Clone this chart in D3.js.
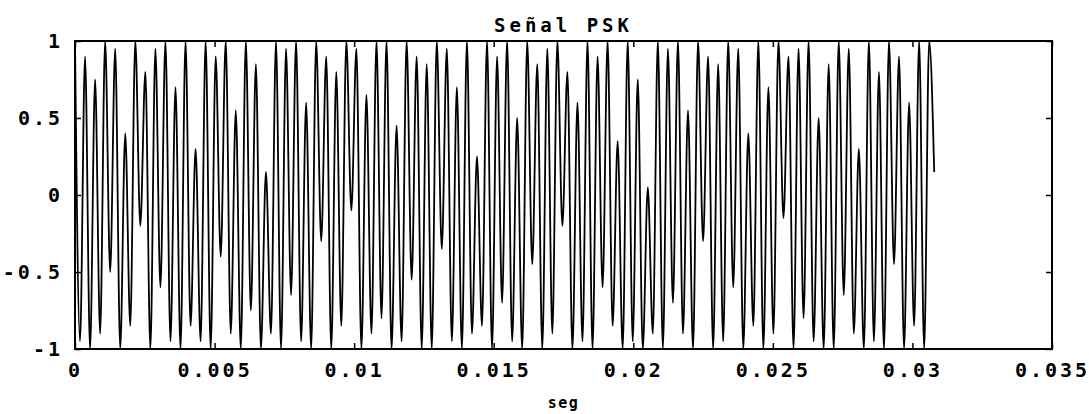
<!DOCTYPE html>
<html>
<head>
<meta charset="utf-8">
<script src="https://cdn.jsdelivr.net/npm/d3@7"></script>
<style>
  html, body { margin: 0; padding: 0; background: #fff; }
  svg { display: block; }
  text { font-family: "DejaVu Sans Mono", "Liberation Mono", monospace; font-weight: bold; fill: #000; }
</style>
</head>
<body>
<svg id="chart" width="1089" height="414"></svg>
<script>
// ---- data ----
const chartTitle = "Señal PSK";
const xLabel = "seg";
const sampleInterval = 0.00018; // seconds between successive peaks / troughs
const samples = [
  1, -0.95, 0.9, -1, 0.75, -0.9, 1, -0.5, 0.95, -1,
  0.4, -0.85, 1, -0.2, 0.8, -1, 0.95, -0.6, 1, -0.95,
  0.7, -1, 1, -0.85, 0.3, -0.95, 1, -1, 0.9, -0.4,
  1, -0.9, 0.55, -1, 1, -0.75, 0.85, -1, 0.15, -0.9,
  1, -1, 0.95, -0.65, 1, -0.95, 0.6, -1, 1, -0.3,
  0.9, -1, 0.8, -0.85, 1, -0.1, 0.95, -1, 0.65, -0.9,
  1, -0.8, 1, -1, 0.45, -0.95, 1, -0.55, 0.9, -1,
  0.85, -1, 1, -0.35, 0.95, -0.95, 0.7, -1, 1, -0.9,
  0.25, -0.85, 1, -1, 0.9, -0.7, 1, -0.95, 0.5, -1,
  1, -0.45, 0.85, -1, 0.95, -0.9, 1, -0.2, 0.8, -1,
  0.6, -0.95, 1, -1, 0.9, -0.6, 1, -0.85, 0.35, -1,
  1, -0.95, 0.75, -1, 0.05, -0.9, 1, -1, 0.95, -0.7,
  1, -0.9, 0.55, -1, 1, -0.3, 0.9, -1, 0.85, -0.95,
  1, -0.6, 0.95, -1, 0.4, -0.85, 1, -1, 0.7, -0.9,
  1, -0.15, 0.9, -1, 0.95, -0.8, 1, -0.95, 0.5, -1,
  0.85, -1, 1, -0.65, 0.95, -0.9, 0.3, -1, 1, -0.95,
  0.8, -1, 1, -0.45, 0.9, -1, 0.6, -0.85, 1, -1,
  1, 0.15
];
const xTicks = [0, 0.005, 0.01, 0.015, 0.02, 0.025, 0.03, 0.035];
const xTickLabels = ["0", "0.005", "0.01", "0.015", "0.02", "0.025", "0.03", "0.035"];
const yTicks = [-1, -0.5, 0, 0.5, 1];
const yTickLabels = ["-1", "-0.5", "0", "0.5", "1"];

// ---- layout ----
const svg = d3.select("#chart");
const L = 75, R = 1052, T = 41, B = 349;

const x = d3.scaleLinear().domain([0, 0.035]).range([L, R]);
const y = d3.scaleLinear().domain([-1, 1]).range([B, T]);

const pts = samples.map((v, i) => [i * sampleInterval, v]);

// signal
svg.append("path")
  .datum(pts)
  .attr("fill", "none")
  .attr("stroke", "#000")
  .attr("stroke-width", 1.8)
  .attr("d", d3.line().curve(d3.curveMonotoneX).x(d => x(d[0])).y(d => y(d[1])));

// axes
const fmtX = (d, i) => xTickLabels[i];
const fmtY = (d, i) => yTickLabels[i];

const gL = svg.append("g").attr("transform", `translate(${L},0)`)
  .call(d3.axisLeft(y).tickValues(yTicks).tickFormat(fmtY).tickSize(-6).tickPadding(12));
const gR = svg.append("g").attr("transform", `translate(${R},0)`)
  .call(d3.axisRight(y).tickValues(yTicks).tickFormat("").tickSize(-6));
const gB = svg.append("g").attr("transform", `translate(0,${B})`)
  .call(d3.axisBottom(x).tickValues(xTicks).tickFormat(fmtX).tickSize(-6).tickPadding(14));
const gT = svg.append("g").attr("transform", `translate(0,${T})`)
  .call(d3.axisTop(x).tickValues(xTicks).tickFormat("").tickSize(-6));

[gL, gR, gB, gT].forEach(g => {
  g.select(".domain").remove();
  g.selectAll(".tick line").attr("stroke", "#000").attr("stroke-width", 1.5);
  g.selectAll("text").attr("font-size", 20).attr("letter-spacing", 3)
    .style("font-family", '"DejaVu Sans Mono", monospace').style("font-weight", "bold");
});

// frame
svg.append("rect")
  .attr("x", L).attr("y", T).attr("width", R - L).attr("height", B - T)
  .attr("fill", "none").attr("stroke", "#000").attr("stroke-width", 2);

// title and x label
svg.append("text").attr("x", (L + R) / 2).attr("y", 32)
  .attr("text-anchor", "middle").attr("font-size", 19).attr("letter-spacing", 4)
  .text(chartTitle);
svg.append("text").attr("x", (L + R) / 2).attr("y", 408)
  .attr("text-anchor", "middle").attr("font-size", 15).attr("letter-spacing", 1.5)
  .text(xLabel);
</script>
</body>
</html>
